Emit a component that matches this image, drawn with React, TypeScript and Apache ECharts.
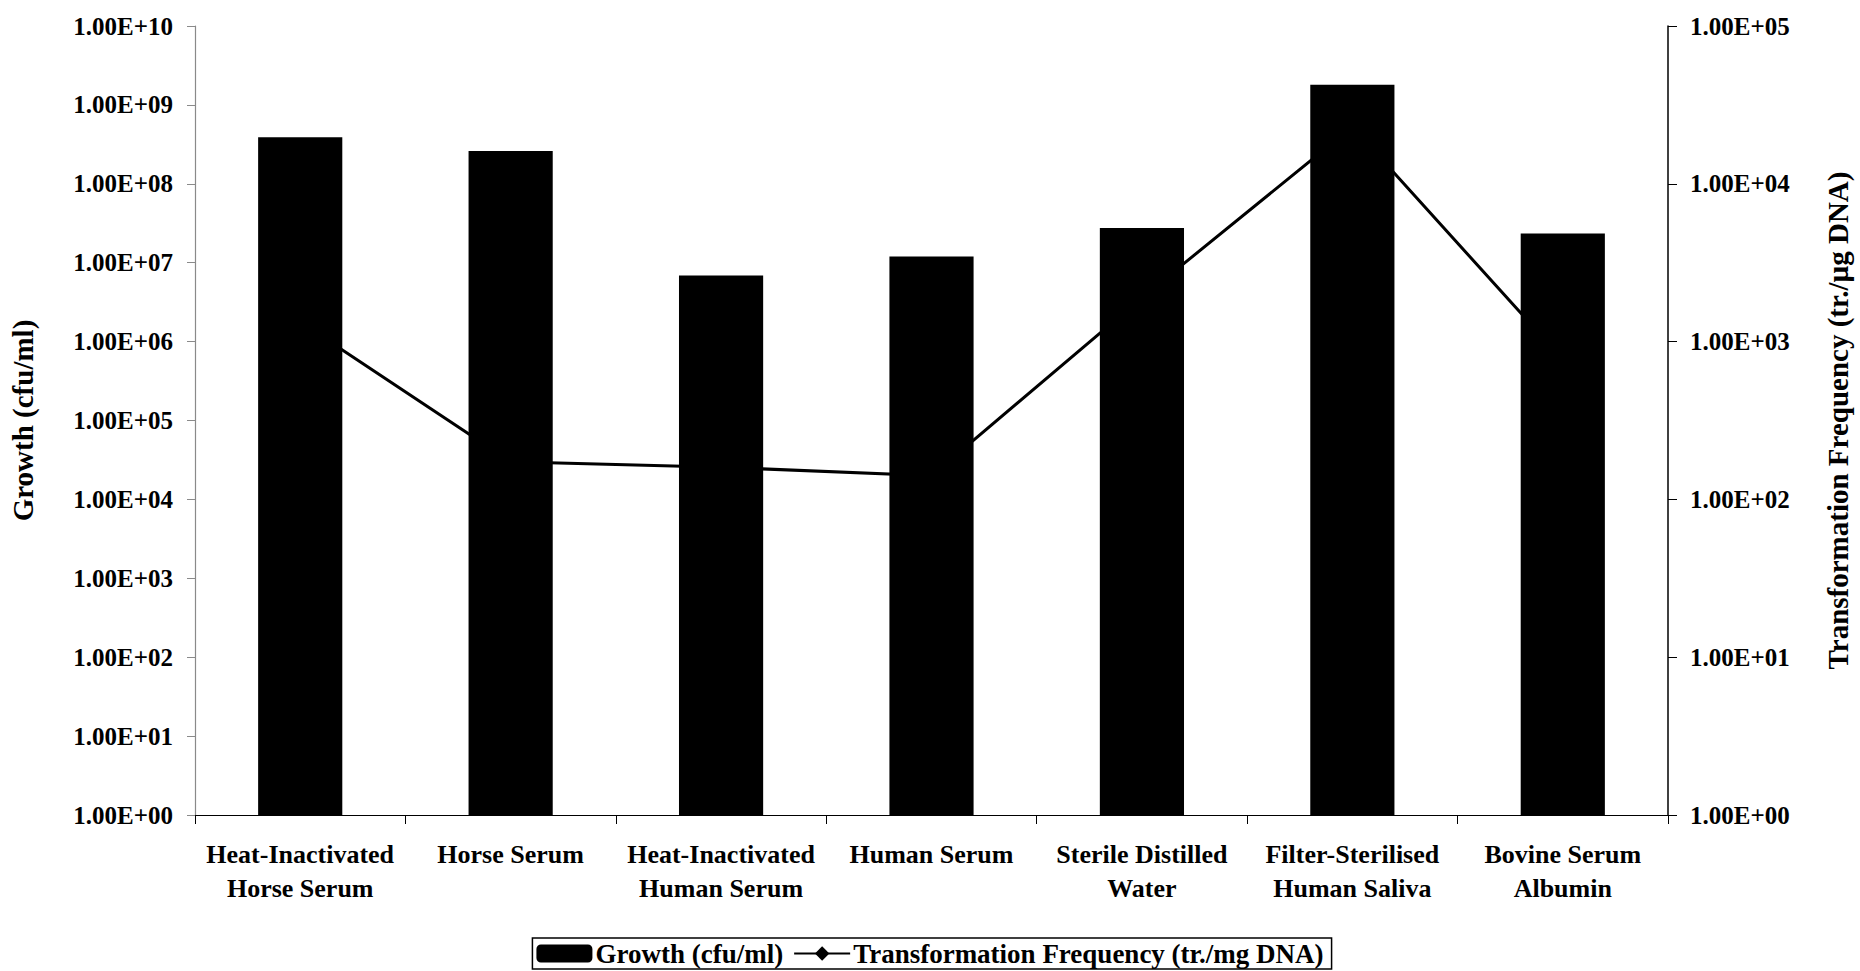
import React, { useEffect, useRef } from "react";
import * as echarts from "echarts";

// Growth media tested
const categories: string[] = [
  "Heat-Inactivated\nHorse Serum",
  "Horse Serum",
  "Heat-Inactivated\nHuman Serum",
  "Human Serum",
  "Sterile Distilled\nWater",
  "Filter-Sterilised\nHuman Saliva",
  "Bovine Serum\nAlbumin",
];

// Growth (cfu/ml), left log axis
const growth: number[] = [3.9e8, 2.6e8, 6.9e6, 1.2e7, 2.75e7, 1.8e9, 2.35e7];

// Transformation frequency, right log axis
const transformation: number[] = [1330, 173, 160, 141, 1900, 23000, 770];

const FONT = '"Liberation Serif", "Times New Roman", serif';

// 1 -> "1.00E+00", 1e10 -> "1.00E+10"
const sci = (v: number): string => {
  const e = Math.round(Math.log10(v));
  return `1.00E+${String(e).padStart(2, "0")}`;
};

export default function App() {
  const ref = useRef<HTMLDivElement>(null);

  useEffect(() => {
    if (!ref.current) return;
    const chart = echarts.init(ref.current, undefined, { renderer: "svg" });

    const tickLabel = {
      fontFamily: FONT,
      fontWeight: "bold" as const,
      fontSize: 25,
      color: "#000",
      margin: 22,
      formatter: sci,
    };

    chart.setOption({
      animation: false,
      backgroundColor: "#fff",
      grid: { left: 188, right: 177, top: 26, bottom: 156, containLabel: false },
      legend: {
        bottom: 2,
        left: "center",
        padding: [2, 8, 2, 4],
        borderColor: "#000",
        borderWidth: 1.5,
        itemWidth: 56,
        itemHeight: 18,
        itemGap: 10,
        textStyle: {
          fontFamily: FONT,
          fontWeight: "bold",
          fontSize: 27,
          color: "#000",
          padding: [0, 0, 0, -2],
        },
        data: ["Growth (cfu/ml)", "Transformation Frequency (tr./mg DNA)"],
      },
      xAxis: {
        type: "category",
        data: categories,
        boundaryGap: true,
        axisLine: { show: true, lineStyle: { color: "#000", width: 1.2 } },
        axisTick: { show: true, inside: false, length: 9, lineStyle: { color: "#000" } },
        axisLabel: {
          interval: 0,
          fontFamily: FONT,
          fontWeight: "bold",
          fontSize: 26,
          lineHeight: 34,
          color: "#000",
          margin: 22,
        },
        splitLine: { show: false },
      },
      yAxis: [
        {
          type: "log",
          logBase: 10,
          min: 1,
          max: 1e10,
          interval: 1,
          position: "left",
          name: "Growth (cfu/ml)",
          nameLocation: "middle",
          nameGap: 158,
          nameRotate: 90,
          nameTextStyle: {
            fontFamily: FONT,
            fontWeight: "bold",
            fontSize: 29,
            color: "#000",
          },
          axisLine: { show: true, lineStyle: { color: "#8a8a8a", width: 1.2 } },
          axisTick: { show: true, inside: false, length: 8, lineStyle: { color: "#8a8a8a" } },
          axisLabel: tickLabel,
          splitLine: { show: false },
          minorTick: { show: false },
        },
        {
          type: "log",
          logBase: 10,
          min: 1,
          max: 1e5,
          interval: 1,
          position: "right",
          name: "Transformation Frequency (tr./µg DNA)",
          nameLocation: "middle",
          nameGap: 155,
          nameRotate: 90,
          nameTextStyle: {
            fontFamily: FONT,
            fontWeight: "bold",
            fontSize: 29,
            color: "#000",
          },
          axisLine: { show: true, lineStyle: { color: "#000", width: 1.5 } },
          axisTick: { show: true, inside: false, length: 9, lineStyle: { color: "#000" } },
          axisLabel: tickLabel,
          splitLine: { show: false },
          minorTick: { show: false },
        },
      ],
      series: [
        {
          name: "Growth (cfu/ml)",
          type: "bar",
          yAxisIndex: 0,
          data: growth,
          barCategoryGap: "60%",
          itemStyle: { color: "#000" },
          z: 3,
        },
        {
          name: "Transformation Frequency (tr./mg DNA)",
          type: "line",
          yAxisIndex: 1,
          data: transformation,
          symbol: "diamond",
          symbolSize: 14,
          showSymbol: true,
          lineStyle: { color: "#000", width: 3 },
          itemStyle: { color: "#000" },
          z: 1,
        },
      ],
    });

    return () => chart.dispose();
  }, []);

  return (
    <div
      ref={ref}
      style={{ position: "fixed", left: 0, top: 0, width: 1860, height: 971, background: "#fff" }}
    />
  );
}
